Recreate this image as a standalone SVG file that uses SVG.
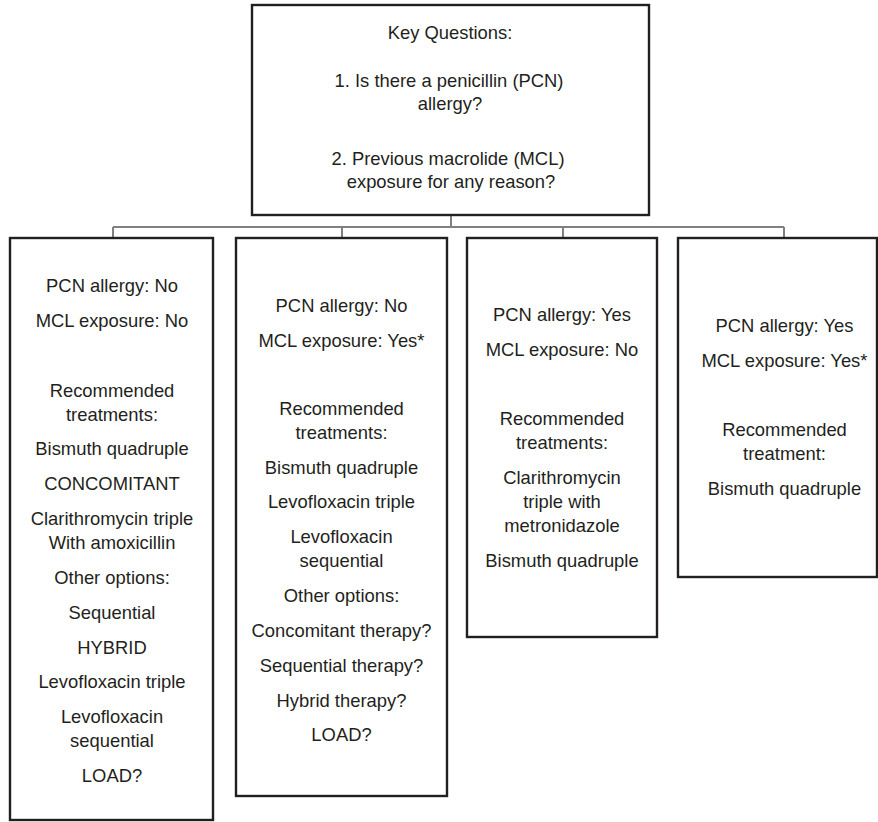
<svg xmlns="http://www.w3.org/2000/svg" width="878" height="822" viewBox="0 0 878 822">
<style>
.box{fill:#fff;stroke:#231f20;stroke-width:2.4}
.conn{fill:none;stroke:#808080;stroke-width:2}
text{font-family:"Liberation Sans",Arial,Helvetica,sans-serif;font-size:18.4px;fill:#231f20;text-anchor:middle}
</style>
<rect width="878" height="822" fill="#fff"/>
<g id="connectors">
<path class="conn" d="M451 215V227M113 227H784M113 227V238M342 227V238M563 227V238M784 227V238"/>
</g>
<g id="key-questions">
<rect class="box" x="252" y="5" width="397" height="210"/>
<text x="450" y="39">Key Questions:</text>
<text x="449" y="87">1. Is there a penicillin (PCN)</text>
<text x="450" y="110">allergy?</text>
<text x="448" y="165">2. Previous macrolide (MCL)</text>
<text x="451" y="188">exposure for any reason?</text>
</g>
<g id="box-no-no">
<rect class="box" x="10" y="238" width="203" height="582"/>
<text x="112" y="292">PCN allergy: No</text>
<text x="112" y="327">MCL exposure: No</text>
<text x="112" y="396.5">Recommended</text>
<text x="112" y="420.5">treatments:</text>
<text x="112" y="455">Bismuth quadruple</text>
<text x="112" y="490">CONCOMITANT</text>
<text x="112" y="525">Clarithromycin triple</text>
<text x="112" y="549">With amoxicillin</text>
<text x="112" y="584">Other options:</text>
<text x="112" y="619">Sequential</text>
<text x="112" y="653.5">HYBRID</text>
<text x="112" y="688">Levofloxacin triple</text>
<text x="112" y="723">Levofloxacin</text>
<text x="112" y="747">sequential</text>
<text x="112" y="782">LOAD?</text>
</g>
<g id="box-no-yes">
<rect class="box" x="236" y="238" width="211" height="558"/>
<text x="341.5" y="312">PCN allergy: No</text>
<text x="341.5" y="346.5">MCL exposure: Yes*</text>
<text x="341.5" y="415">Recommended</text>
<text x="341.5" y="439">treatments:</text>
<text x="341.5" y="473.5">Bismuth quadruple</text>
<text x="341.5" y="508">Levofloxacin triple</text>
<text x="341.5" y="543">Levofloxacin</text>
<text x="341.5" y="567">sequential</text>
<text x="341.5" y="602">Other options:</text>
<text x="341.5" y="637">Concomitant therapy?</text>
<text x="341.5" y="672">Sequential therapy?</text>
<text x="341.5" y="706.5">Hybrid therapy?</text>
<text x="341.5" y="741">LOAD?</text>
</g>
<g id="box-yes-no">
<rect class="box" x="467" y="238" width="190" height="399"/>
<text x="562" y="321">PCN allergy: Yes</text>
<text x="562" y="356">MCL exposure: No</text>
<text x="562" y="424.5">Recommended</text>
<text x="562" y="448.5">treatments:</text>
<text x="562" y="483.5">Clarithromycin</text>
<text x="562" y="508">triple with</text>
<text x="562" y="532">metronidazole</text>
<text x="562" y="567">Bismuth quadruple</text>
</g>
<g id="box-yes-yes">
<rect class="box" x="678" y="238" width="199" height="339"/>
<text x="784.5" y="332">PCN allergy: Yes</text>
<text x="784.5" y="367">MCL exposure: Yes*</text>
<text x="784.5" y="436">Recommended</text>
<text x="784.5" y="460">treatment:</text>
<text x="784.5" y="495">Bismuth quadruple</text>
</g>
</svg>
